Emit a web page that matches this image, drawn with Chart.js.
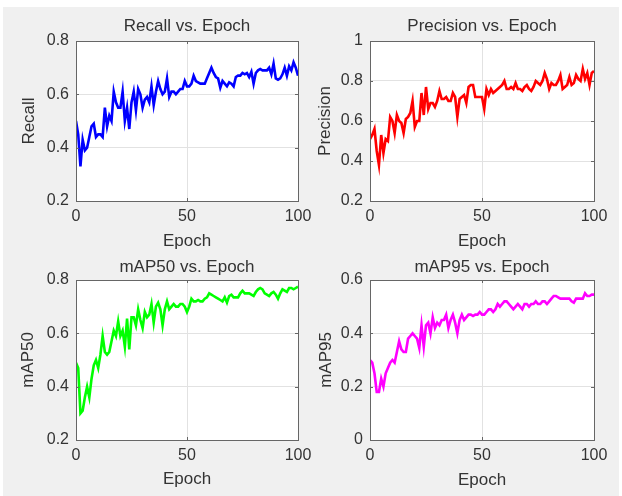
<!DOCTYPE html>
<html>
<head>
<meta charset="utf-8">
<script src="https://cdn.jsdelivr.net/npm/chart.js@4.4.1/dist/chart.umd.min.js"></script>
<style>
  body { margin: 0; background: #ffffff; width: 622px; height: 496px; position: relative; overflow: hidden; }
  #fig { position: absolute; left: 3px; top: 7px; width: 616px; height: 489px; background: #f0f0f0; }
  canvas { position: absolute; }
</style>
</head>
<body>
<div id="fig"></div>
<canvas id="cRecall"></canvas>
<canvas id="cPrecision"></canvas>
<canvas id="cMap50"></canvas>
<canvas id="cMap95"></canvas>
<script>
// valores (época 0..100)
const recall = [
  0.50, 0.45, 0.33, 0.43, 0.39, 0.40, 0.44, 0.48, 0.49, 0.44,
  0.45, 0.45, 0.44, 0.55, 0.48, 0.52, 0.50, 0.61, 0.57, 0.55,
  0.55, 0.61, 0.50, 0.55, 0.47, 0.57, 0.61, 0.54, 0.62, 0.60,
  0.55, 0.58, 0.59, 0.57, 0.63, 0.56, 0.61, 0.65, 0.62, 0.60,
  0.61, 0.66, 0.59, 0.61, 0.61, 0.60, 0.61, 0.62, 0.62, 0.65,
  0.63, 0.63, 0.64, 0.67, 0.65, 0.645, 0.64, 0.64, 0.64, 0.66,
  0.68, 0.70, 0.68, 0.665, 0.66, 0.625, 0.65, 0.64, 0.63, 0.645,
  0.64, 0.63, 0.665, 0.67, 0.67, 0.68, 0.675, 0.68, 0.665, 0.685,
  0.64, 0.68, 0.69, 0.695, 0.69, 0.69, 0.69, 0.70, 0.675, 0.715,
  0.66, 0.655, 0.66, 0.675, 0.70, 0.67, 0.705, 0.69, 0.72, 0.70,
  0.67
];
const precision = [
  0.51, 0.53, 0.56, 0.45, 0.38, 0.53, 0.44, 0.51, 0.50, 0.62,
  0.60, 0.54, 0.63, 0.60, 0.59, 0.54, 0.61, 0.62, 0.64, 0.70,
  0.57, 0.60, 0.60, 0.74, 0.63, 0.77, 0.66, 0.69, 0.69, 0.67,
  0.70, 0.75, 0.71, 0.71, 0.72, 0.70, 0.70, 0.74, 0.72, 0.62,
  0.71, 0.72, 0.73, 0.69, 0.77, 0.78, 0.78, 0.72, 0.72, 0.72,
  0.72, 0.66, 0.76, 0.73, 0.76, 0.74, 0.75, 0.76, 0.77, 0.78,
  0.80, 0.76, 0.76, 0.77, 0.76, 0.79, 0.76, 0.76, 0.75, 0.77,
  0.78, 0.76, 0.75, 0.77, 0.80, 0.79, 0.78, 0.80, 0.84, 0.81,
  0.76, 0.79, 0.78, 0.78, 0.80, 0.83, 0.76, 0.77, 0.78, 0.82,
  0.78, 0.79, 0.83, 0.81, 0.80, 0.86, 0.81, 0.84, 0.78, 0.84,
  0.85
];
const map50 = [
  0.49, 0.47, 0.30, 0.31, 0.36, 0.40, 0.36, 0.43, 0.48, 0.50,
  0.47, 0.52, 0.59, 0.53, 0.52, 0.53, 0.57, 0.61, 0.59, 0.645,
  0.59, 0.61, 0.55, 0.655, 0.54, 0.66, 0.66, 0.63, 0.69, 0.65,
  0.62, 0.68, 0.66, 0.67, 0.71, 0.64, 0.70, 0.715, 0.69, 0.63,
  0.69, 0.72, 0.69, 0.70, 0.71, 0.70, 0.70, 0.71, 0.71, 0.70,
  0.68, 0.70, 0.73, 0.72, 0.72, 0.725, 0.72, 0.72, 0.73, 0.735,
  0.75, 0.745, 0.74, 0.735, 0.73, 0.725, 0.72, 0.735, 0.715, 0.74,
  0.745, 0.735, 0.735, 0.735, 0.75, 0.76, 0.75, 0.75, 0.75, 0.745,
  0.74, 0.755, 0.765, 0.77, 0.765, 0.75, 0.745, 0.74, 0.75, 0.755,
  0.745, 0.73, 0.75, 0.765, 0.76, 0.755, 0.77, 0.77, 0.765, 0.77,
  0.775
];
const map95 = [
  0.30, 0.29, 0.25, 0.18, 0.18, 0.23, 0.20, 0.25, 0.27, 0.29,
  0.30, 0.29, 0.33, 0.37, 0.34, 0.33, 0.33, 0.38, 0.39, 0.40,
  0.39, 0.38, 0.345, 0.43, 0.35, 0.43, 0.44, 0.40, 0.46, 0.42,
  0.44, 0.43, 0.45, 0.45, 0.47, 0.42, 0.45, 0.47, 0.44, 0.40,
  0.45, 0.47, 0.45, 0.46, 0.47, 0.47, 0.465, 0.47, 0.47, 0.48,
  0.47, 0.47, 0.48, 0.49, 0.49, 0.48, 0.49, 0.51, 0.50, 0.51,
  0.52, 0.52, 0.51, 0.50, 0.49, 0.50, 0.51, 0.50, 0.49, 0.51,
  0.51, 0.50, 0.51, 0.51, 0.52, 0.51, 0.51, 0.52, 0.52, 0.51,
  0.52, 0.53, 0.54, 0.54, 0.535, 0.53, 0.53, 0.53, 0.53, 0.53,
  0.52, 0.515, 0.53, 0.53, 0.53, 0.53, 0.55, 0.54, 0.54, 0.545,
  0.545
];
const epochs = recall.map((_, i) => i);

const FAMILY = '"Liberation Sans", Arial, sans-serif';
const TICK_FONT = { family: FAMILY, size: 16 };
const LABEL_FONT = { family: FAMILY, size: 17 };
const TEXT = '#333333';
const HALF = LABEL_FONT.size * 1.2 / 2;

// fondo blanco del área y caja con marcas hacia dentro (estilo MATLAB)
const axesBox = {
    id: 'axesBox',
    beforeDraw(chart) {
        const a = chart.chartArea;
        const ctx = chart.ctx;
        ctx.save();
        ctx.fillStyle = '#ffffff';
        ctx.fillRect(a.left, a.top, a.right - a.left, a.bottom - a.top);
        ctx.restore();
    },
    afterDatasetsDraw(chart) {
        const a = chart.chartArea;
        const ctx = chart.ctx;
        const xs = chart.scales.x, ys = chart.scales.y;
        ctx.save();
        ctx.strokeStyle = '#666666';
        ctx.lineWidth = 1;
        ctx.beginPath();
        xs.ticks.forEach(t => {
            const px = Math.round(xs.getPixelForValue(t.value)) + 0.5;
            ctx.moveTo(px, a.top); ctx.lineTo(px, a.top + 3);
            ctx.moveTo(px, a.bottom); ctx.lineTo(px, a.bottom - 3);
        });
        ys.ticks.forEach(t => {
            const py = Math.round(ys.getPixelForValue(t.value)) + 0.5;
            ctx.moveTo(a.left, py); ctx.lineTo(a.left + 3, py);
            ctx.moveTo(a.right, py); ctx.lineTo(a.right - 3, py);
        });
        ctx.stroke();
        ctx.strokeRect(Math.round(a.left) + 0.5, Math.round(a.top) + 0.5,
            Math.round(a.right - a.left), Math.round(a.bottom - a.top));
        ctx.restore();
    }
};

function crearGrafico(id, box, area, pos, titulo, etiquetaY, valores, color, yMin, yMax) {
    const canvas = document.getElementById(id);
    canvas.style.left = box.x + 'px';
    canvas.style.top = box.y + 'px';
    canvas.width = box.w;
    canvas.height = box.h;

    const pl = pos.yTitleX - box.x - HALF;
    const yWidth = area.left - box.x - pl;
    const pr = box.x + box.w - area.right;
    const pt = pos.titleY - box.y - HALF;
    const titlePadBottom = area.top - box.y - pt - HALF * 2;
    const xHeight = pos.xTitleY - area.bottom + HALF;
    const pb = box.y + box.h - area.bottom - xHeight;

    return new Chart(canvas, {
        type: 'line',
        data: {
            datasets: [{
                data: epochs.map((e, i) => ({ x: e, y: valores[i] })),
                borderColor: color,
                borderWidth: 2.6,
                pointRadius: 0,
                tension: 0,
                fill: false
            }]
        },
        options: {
            responsive: false,
            animation: false,
            events: [],
            layout: { padding: { left: pl, right: pr, top: pt, bottom: pb } },
            plugins: {
                legend: { display: false },
                tooltip: { enabled: false },
                title: {
                    display: true,
                    fullSize: false,
                    text: titulo,
                    color: TEXT,
                    font: { family: FAMILY, size: LABEL_FONT.size, weight: 'normal' },
                    padding: { top: 0, bottom: titlePadBottom }
                }
            },
            scales: {
                x: {
                    type: 'linear',
                    min: 0,
                    max: 100,
                    ticks: { stepSize: 50, color: TEXT, font: TICK_FONT, padding: 6, maxRotation: 0 },
                    grid: { color: '#e2e2e2', drawTicks: false },
                    border: { display: false },
                    title: { display: true, text: 'Epoch', color: TEXT, font: LABEL_FONT, padding: 0 },
                    afterFit(scale) {
                        scale.height = xHeight;
                        scale.paddingLeft = 0;
                        scale.paddingRight = 0;
                    }
                },
                y: {
                    min: yMin,
                    max: yMax,
                    ticks: {
                        stepSize: 0.2,
                        color: TEXT,
                        font: TICK_FONT,
                        padding: 7,
                        callback: v => String(+v.toFixed(1))
                    },
                    grid: { color: '#e2e2e2', drawTicks: false },
                    border: { display: false },
                    title: { display: true, text: etiquetaY, color: TEXT, font: LABEL_FONT, padding: 0 },
                    afterFit(scale) {
                        scale.width = yWidth;
                        scale.paddingTop = 0;
                        scale.paddingBottom = 0;
                    }
                }
            }
        },
        plugins: [axesBox]
    });
}

crearGrafico('cRecall',
    { x: 0, y: 0, w: 311, h: 260 },
    { left: 76, right: 298, top: 41, bottom: 201 },
    { titleY: 26, yTitleX: 29, xTitleY: 241 },
    'Recall vs. Epoch', 'Recall', recall, '#0000ff', 0.2, 0.8);

crearGrafico('cPrecision',
    { x: 311, y: 0, w: 311, h: 260 },
    { left: 370, right: 594, top: 41, bottom: 201 },
    { titleY: 26, yTitleX: 325, xTitleY: 241 },
    'Precision vs. Epoch', 'Precision', precision, '#ff0000', 0.2, 1);

crearGrafico('cMap50',
    { x: 0, y: 248, w: 311, h: 248 },
    { left: 76, right: 298, top: 280, bottom: 440 },
    { titleY: 267, yTitleX: 28, xTitleY: 479 },
    'mAP50 vs. Epoch', 'mAP50', map50, '#00ff00', 0.2, 0.8);

crearGrafico('cMap95',
    { x: 311, y: 248, w: 311, h: 248 },
    { left: 370, right: 594, top: 280, bottom: 440 },
    { titleY: 267, yTitleX: 326, xTitleY: 480 },
    'mAP95 vs. Epoch', 'mAP95', map95, '#ff00ff', 0, 0.6);
</script>
</body>
</html>
